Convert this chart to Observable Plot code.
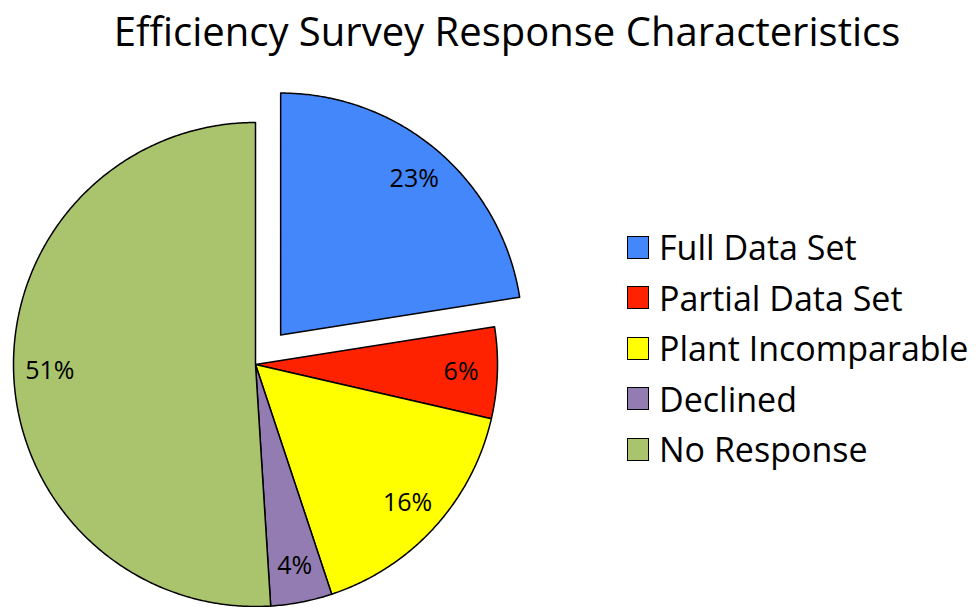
<!DOCTYPE html>
<html>
<head>
<meta charset="utf-8">
<script src="https://cdn.jsdelivr.net/npm/d3@7"></script>
<script src="https://cdn.jsdelivr.net/npm/@observablehq/plot@0.6"></script>
<style>
  html, body { margin: 0; padding: 0; background: #fff; }
  body { width: 977px; height: 607px; position: relative; overflow: hidden; font-family: "Open Sans", sans-serif; }
  #title { position: absolute; left: 0; top: 0; width: 1014px; height: 80px; text-align: center; font-size: 40px; line-height: 62px; color: #000; white-space: nowrap; }
  #chart { position: absolute; left: 0; top: 80px; }
  #legend { position: absolute; left: 627px; top: 222px; }
  .row { display: flex; align-items: center; height: 50.5px; font-size: 34px; color: #000; white-space: nowrap; }
  .sw { width: 20px; height: 21px; border: 1.5px solid #000; margin-right: 10px; flex: none; }
</style>
</head>
<body>
<div id="title">Efficiency Survey Response Characteristics</div>
<div id="chart"></div>
<div id="legend"></div>
<script>
// ---- data ----
const categories = ["Full Data Set", "Partial Data Set", "Plant Incomparable", "Declined", "No Response"];
const values = [22.5, 6.1, 16.3, 4.1, 51.0];
const colors = ["#4487fb", "#ff2200", "#ffff00", "#937cb2", "#aac46e"];
const exploded = ["Full Data Set"];

// ---- geometry helpers (pixels) ----
const W = 977, H = 527;
const R = 242;             // pie radius in px
const CX = 255, CY = 284;  // pie centre in px within svg
const EXPLODE = 0.16;      // explode distance, fraction of radius
const LABEL_R = 0.85;      // label radius, fraction of radius

const total = d3.sum(values);
const points = [];
const labels = [];
let cum = 0;
categories.forEach((name, i) => {
  const a0 = cum / total * 2 * Math.PI;
  cum += values[i];
  const a1 = cum / total * 2 * Math.PI;
  const am = (a0 + a1) / 2;
  const off = exploded.includes(name) ? EXPLODE : 0;
  const ox = off * Math.sin(am), oy = off * Math.cos(am);
  points.push({name, x: ox, y: oy});
  const n = Math.max(2, Math.ceil((a1 - a0) / (Math.PI / 360)));
  for (let k = 0; k <= n; k++) {
    const a = a0 + (a1 - a0) * k / n;
    points.push({name, x: ox + Math.sin(a), y: oy + Math.cos(a)});
  }
  points.push({name, x: ox, y: oy});
  labels.push({name, text: Math.round(values[i] / total * 100) + "%", x: ox + LABEL_R * Math.sin(am), y: oy + LABEL_R * Math.cos(am)});
});

const chart = Plot.plot({
  width: W,
  height: H,
  margin: 0,
  x: {domain: [-CX / R, (W - CX) / R], axis: null},
  y: {domain: [-(H - CY) / R, CY / R], axis: null},
  color: {domain: categories, range: colors},
  marks: [
    Plot.line(points, {x: "x", y: "y", z: "name", fill: "name", stroke: "#000", strokeWidth: 1.5, curve: "linear", strokeLinejoin: "round"}),
    Plot.text(labels, {x: "x", y: "y", text: "text", fontSize: 25, fill: "#000", fontFamily: "Open Sans"})
  ]
});
document.getElementById("chart").appendChild(chart);

// ---- legend ----
const legend = document.getElementById("legend");
categories.forEach((c, i) => {
  const row = document.createElement("div");
  row.className = "row";
  const sw = document.createElement("div");
  sw.className = "sw";
  sw.style.background = colors[i];
  const t = document.createElement("span");
  t.textContent = c;
  row.appendChild(sw);
  row.appendChild(t);
  legend.appendChild(row);
});
</script>
</body>
</html>
